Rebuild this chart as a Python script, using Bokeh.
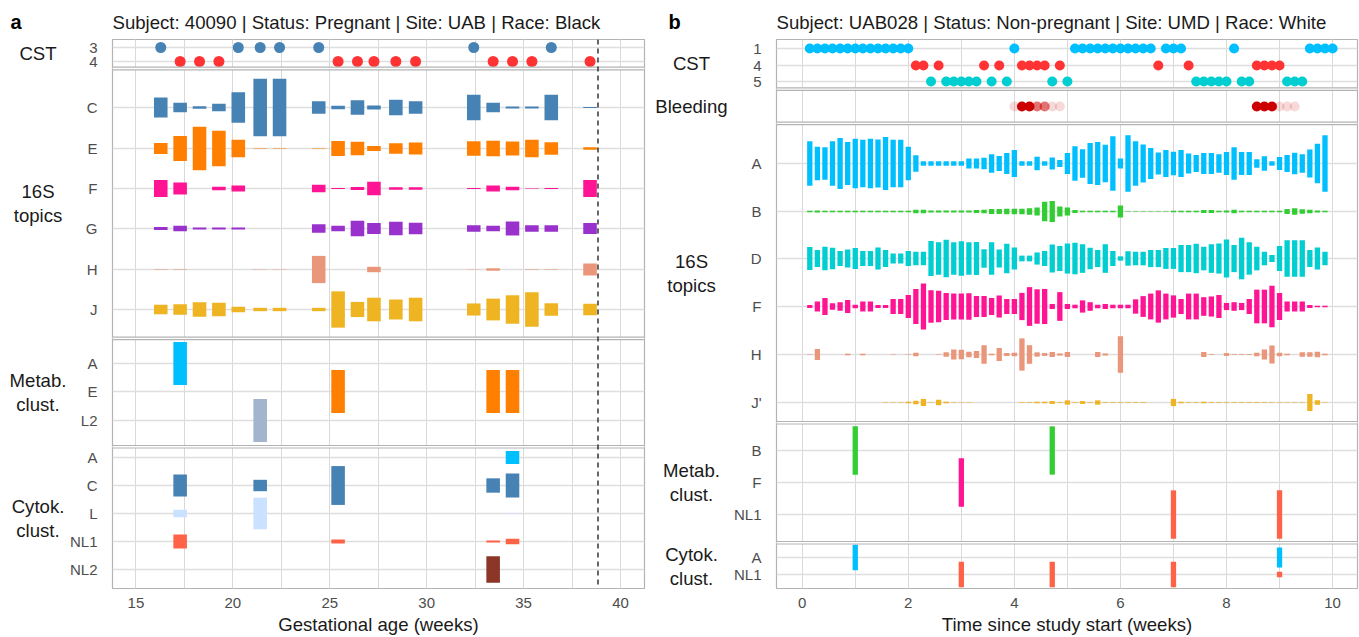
from bokeh.plotting import figure
from bokeh.layouts import row
from bokeh.models import Range1d, FixedTicker, SingleIntervalTicker, Span
from bokeh.core.properties import value
from bokeh.embed import file_html
from bokeh.resources import INLINE

FONT = "Liberation Sans"

# ===================== Panel a data =====================
a_title = "Subject: 40090 | Status: Pregnant | Site: UAB | Race: Black"
a_xlabel = "Gestational age (weeks)"
a_weeks = [16.28, 17.28, 18.28, 19.28, 20.28, 21.41, 22.41, 24.43, 25.43, 26.43,
           27.28, 28.41, 29.43, 32.43, 33.43, 34.43, 35.43, 36.43, 38.43]
a_cst = ["3", "4", "4", "4", "3", "3", "3", "3", "4", "4",
         "4", "4", "4", "3", "4", "4", "4", "3", "4"]
a_cst_levels = ["3", "4"]
a_delivery = 38.84

a_topic_names = ["C", "E", "F", "G", "H", "J"]
a_topic_C = [0.33, 0.16, 0.04, 0.12, 0.50, 0.95, 0.95, 0.21, 0.055, 0.24, 0.07, 0.26, 0.21, 0.42, 0.16, 0.03, 0.03, 0.42, 0.02]
a_topic_E = [0.18, 0.41, 0.72, 0.59, 0.29, 0.005, 0.01, 0.01, 0.25, 0.22, 0.08, 0.17, 0.20, 0.24, 0.26, 0.23, 0.29, 0.21, 0.04]
a_topic_F = [0.28, 0.20, 0.0, 0.06, 0.10, 0.0, 0.0, 0.12, 0.02, 0.05, 0.22, 0.04, 0.04, 0.02, 0.10, 0.06, 0.005, 0.02, 0.28]
a_topic_G = [0.05, 0.09, 0.03, 0.03, 0.03, 0.0, 0.0, 0.14, 0.09, 0.26, 0.18, 0.22, 0.19, 0.11, 0.09, 0.23, 0.11, 0.11, 0.18]
a_topic_H = [0.005, 0.005, 0.0, 0.0, 0.0, 0.005, 0.005, 0.45, 0.0, 0.0, 0.09, 0.0, 0.0, 0.005, 0.04, 0.0, 0.005, 0.005, 0.20]
a_topic_J = [0.16, 0.17, 0.24, 0.22, 0.09, 0.055, 0.055, 0.055, 0.60, 0.25, 0.39, 0.33, 0.39, 0.20, 0.36, 0.47, 0.57, 0.21, 0.19]

a_metab_names = ["A", "E", "L2"]
a_metab_weeks = [17.28, 21.41, 25.43, 33.43, 34.43]
a_metab_A = [1.0, 0.0, 0.0, 0.0, 0.0]
a_metab_E = [0.0, 0.0, 1.0, 1.0, 1.0]
a_metab_L2 = [0.0, 1.0, 0.0, 0.0, 0.0]

a_cytok_names = ["A", "C", "L", "NL1", "NL2"]
a_cytok_weeks = [17.28, 21.41, 25.43, 33.43, 34.43]
a_cytok_A = [0.0, 0.0, 0.0, 0.0, 0.31]
a_cytok_C = [0.52, 0.27, 0.92, 0.34, 0.57]
a_cytok_L = [0.18, 0.75, 0.0, 0.0, 0.01]
a_cytok_NL1 = [0.33, 0.0, 0.09, 0.05, 0.13]
a_cytok_NL2 = [0.0, 0.0, 0.0, 0.63, 0.0]

# ===================== Panel b data =====================
b_title = "Subject: UAB028 | Status: Non-pregnant | Site: UMD | Race: White"
b_xlabel = "Time since study start (weeks)"
b_days = [1, 2, 3, 4, 5, 6, 7, 8, 9, 10, 11, 12, 13, 14,
          15, 16, 17, 18, 19, 20, 21, 22, 23, 24, 25, 26, 27, 28,
          29, 30, 31, 32, 33, 34, 35, 36, 37, 38, 39, 40, 41, 42,
          43, 44, 45, 46, 47, 48, 49, 50, 51, 52, 53, 54, 55, 56,
          57, 58, 59, 60, 61, 62, 63, 64, 65, 66, 67, 68, 69, 70]
b_cst = ["1", "1", "1", "1", "1", "1", "1", "1", "1", "1", "1", "1", "1", "1",
         "4", "4", "5", "4", "5", "5", "5", "5", "5", "4", "5", "4", "5", "1",
         "4", "4", "4", "4", "5", "4", "5", "1", "1", "1", "1", "1", "1", "1",
         "1", "1", "1", "1", "4", "1", "1", "1", "4", "5", "5", "5", "5", "5",
         "1", "5", "5", "4", "4", "4", "4", "5", "5", "5", "1", "1", "1", "1"]
b_cst_levels = ["1", "4", "5"]

b_bleed_days = [28, 29, 30, 31, 32, 33, 34, 60, 61, 62, 63, 64, 65]
b_bleed_level = [1, 3, 3, 2, 2, 1, 1, 3, 3, 3, 1, 1, 1]

b_16s_days = b_days[:69]
b_topic_names = ["A", "B", "D", "F", "H", "J'"]
b_topic_A = [0.62, 0.47, 0.45, 0.62, 0.71, 0.60, 0.69, 0.66, 0.69, 0.67, 0.74, 0.66, 0.66, 0.47,
             0.23, 0.06, 0.06, 0.06, 0.06, 0.06, 0.06, 0.14, 0.14, 0.16, 0.26, 0.21, 0.29, 0.38,
             0.06, 0.06, 0.19, 0.06, 0.17, 0.10, 0.29, 0.48, 0.40, 0.57, 0.60, 0.52, 0.76, 0.14,
             0.79, 0.62, 0.53, 0.43, 0.31, 0.38, 0.33, 0.38, 0.28, 0.24, 0.29, 0.29, 0.26, 0.32,
             0.45, 0.32, 0.32, 0.12, 0.20, 0.06, 0.18, 0.24, 0.30, 0.26, 0.39, 0.55, 0.79]
b_topic_B = [0.02, 0.03, 0.02, 0.02, 0.02, 0.02, 0.02, 0.02, 0.02, 0.02, 0.02, 0.02, 0.02, 0.02,
             0.05, 0.05, 0.03, 0.03, 0.03, 0.03, 0.03, 0.03, 0.04, 0.05, 0.07, 0.07, 0.08, 0.08,
             0.08, 0.09, 0.11, 0.27, 0.29, 0.14, 0.11, 0.04, 0.02, 0.02, 0.02, 0.02, 0.02, 0.17,
             0.01, 0.01, 0.01, 0.01, 0.01, 0.01, 0.02, 0.02, 0.02, 0.02, 0.04, 0.04, 0.02, 0.03,
             0.05, 0.02, 0.02, 0.02, 0.02, 0.02, 0.02, 0.07, 0.09, 0.06, 0.05, 0.03, 0.02]
b_topic_D = [0.32, 0.24, 0.33, 0.30, 0.21, 0.25, 0.29, 0.21, 0.21, 0.31, 0.24, 0.14, 0.14, 0.21,
             0.19, 0.19, 0.49, 0.45, 0.52, 0.45, 0.48, 0.45, 0.46, 0.26, 0.45, 0.25, 0.41, 0.31,
             0.08, 0.08, 0.17, 0.21, 0.39, 0.35, 0.42, 0.44, 0.40, 0.30, 0.24, 0.40, 0.21, 0.06,
             0.20, 0.19, 0.19, 0.24, 0.24, 0.29, 0.29, 0.38, 0.38, 0.41, 0.33, 0.40, 0.42, 0.53,
             0.38, 0.58, 0.45, 0.33, 0.19, 0.10, 0.35, 0.51, 0.51, 0.51, 0.24, 0.31, 0.19]
b_topic_F = [0.04, 0.14, 0.24, 0.09, 0.12, 0.18, 0.05, 0.14, 0.14, 0.04, 0.04, 0.21, 0.21, 0.32,
             0.49, 0.64, 0.45, 0.44, 0.38, 0.36, 0.36, 0.37, 0.29, 0.29, 0.24, 0.31, 0.21, 0.21,
             0.38, 0.54, 0.48, 0.49, 0.07, 0.40, 0.07, 0.05, 0.17, 0.12, 0.05, 0.07, 0.05, 0.05,
             0.05, 0.20, 0.29, 0.36, 0.45, 0.36, 0.31, 0.21, 0.36, 0.36, 0.26, 0.28, 0.32, 0.10,
             0.12, 0.10, 0.21, 0.47, 0.47, 0.58, 0.38, 0.14, 0.14, 0.14, 0.04, 0.02, 0.02]
b_topic_H = [0.01, 0.15, 0.0, 0.0, 0.0, 0.02, 0.0, 0.02, 0.0, 0.0, 0.0, 0.01, 0.0, 0.01,
             0.05, 0.0, 0.0, 0.01, 0.06, 0.14, 0.13, 0.08, 0.10, 0.26, 0.02, 0.18, 0.04, 0.05,
             0.45, 0.26, 0.06, 0.04, 0.07, 0.03, 0.07, 0.0, 0.0, 0.0, 0.07, 0.03, 0.0, 0.51,
             0.0, 0.0, 0.0, 0.0, 0.0, 0.0, 0.0, 0.0, 0.0, 0.0, 0.07, 0.01, 0.0, 0.04,
             0.01, 0.01, 0.01, 0.05, 0.14, 0.25, 0.05, 0.02, 0.0, 0.06, 0.06, 0.08, 0.02]
b_topic_Jp = [0.0, 0.0, 0.0, 0.0, 0.0, 0.0, 0.0, 0.0, 0.0, 0.0, 0.01, 0.01, 0.01, 0.02,
              0.05, 0.10, 0.01, 0.08, 0.02, 0.01, 0.01, 0.01, 0.0, 0.0, 0.0, 0.0, 0.0, 0.0,
              0.01, 0.01, 0.02, 0.02, 0.04, 0.01, 0.06, 0.01, 0.04, 0.01, 0.06, 0.01, 0.01, 0.01,
              0.01, 0.01, 0.01, 0.0, 0.0, 0.0, 0.10, 0.02, 0.01, 0.01, 0.02, 0.01, 0.01, 0.01,
              0.01, 0.01, 0.01, 0.01, 0.01, 0.01, 0.01, 0.01, 0.01, 0.01, 0.24, 0.06, 0.01]

b_metab_names = ["B", "F", "NL1"]
b_metab_days = [7, 21, 33, 49, 63]
b_metab_B = [1.0, 0.0, 1.0, 0.0, 0.0]
b_metab_F = [0.0, 1.0, 0.0, 0.0, 0.0]
b_metab_NL1 = [0.0, 0.0, 0.0, 1.0, 1.0]

b_cytok_names = ["A", "NL1"]
b_cytok_days = [7, 21, 33, 49, 63]
b_cytok_A = [1.0, 0.0, 0.0, 0.0, 0.78]
b_cytok_NL1 = [0.0, 1.0, 1.0, 1.0, 0.22]

# ===================== styles =====================
CST_COLORS = {"1": "#00BFFF", "3": "#4682B4", "4": "#FF3333", "5": "#00CED1"}
A_TOPIC_COLORS = ["#4682B4", "#FF8000", "#FF1493", "#9932CC", "#E9967A", "#EEB422"]
B_TOPIC_COLORS = ["#00BFFF", "#32CD32", "#00CED1", "#FF1493", "#E9967A", "#EEB422"]
A_METAB_COLORS = ["#00BFFF", "#FF8000", "#A2B5CD"]
B_METAB_COLORS = ["#32CD32", "#FF1493", "#FF6347"]
A_CYTOK_COLORS = ["#00BFFF", "#4682B4", "#CAE1FF", "#FF6347", "#8B3626"]
B_CYTOK_COLORS = ["#00BFFF", "#FF6347"]
BLEED_COLOR = "#CC0000"
BLEED_ALPHA = {1: 0.15, 2: 0.55, 3: 1.0}

BORDER = "#B3B3B3"
GRID = "#D9D9D9"
BAR_SCALE = 1.5
FRAME_H = 549
TOP = 39
BOTTOM = 48
TXT = "#4D4D4D"
BIG = "18.6px"

# facet layouts (pixels from frame top)
A_LAYOUT = [
    dict(label="CST", top=0.0, bottom=27.7, first=7.7, step=14.3, n=2),
    dict(label="16S\ntopics", top=30.3, bottom=297.7, first=68.3, step=40.34, n=6),
    dict(label="Metab.\nclust.", top=300.2, bottom=406.0, first=323.7, step=28.65, n=3),
    dict(label="Cytok.\nclust.", top=408.5, bottom=549.0, first=417.7, step=28.15, n=5),
]
B_LAYOUT = [
    dict(label="CST", top=0.0, bottom=48.3, first=9.3, step=16.2, n=3),
    dict(label="Bleeding", top=50.8, bottom=82.7, first=67.0, step=16.0, n=1),
    dict(label="16S\ntopics", top=85.2, bottom=382.0, first=123.7, step=47.8, n=6),
    dict(label="Metab.\nclust.", top=384.5, bottom=502.0, first=411.0, step=32.2, n=3),
    dict(label="Cytok.\nclust.", top=504.5, bottom=549.0, first=517.7, step=17.0, n=2),
]


def rows_of(f):
    return [round(f["first"] + i * f["step"]) for i in range(f["n"])]


def label_fig(letter, width, layout, cx, offset):
    lf = figure(frame_width=width, frame_height=FRAME_H,
                x_range=Range1d(0, width), y_range=Range1d(FRAME_H, 0),
                x_axis_type=None, y_axis_type=None,
                output_backend="svg", toolbar_location=None,
                min_border_left=0, min_border_right=0,
                min_border_top=TOP, min_border_bottom=BOTTOM, title=letter)
    lf.outline_line_color = None
    lf.grid.visible = False
    lf.title.text_font = FONT
    lf.title.text_font_size = "20px"
    lf.title.text_font_style = "bold"
    lf.title.text_color = "black"
    lf.title.align = "left"
    lf.title.offset = offset
    lf.title.standoff = 14
    lf.text(x=[cx] * len(layout), y=[(f["top"] + f["bottom"]) / 2 for f in layout],
            text=[f["label"] for f in layout], text_align="center", text_baseline="middle",
            text_font=value(FONT), text_font_size=BIG, text_color="#1A1A1A",
            text_line_height=1.15)
    return lf


def make_fig(title, xr, frame_w, min_left, min_right, xlabel, interval):
    p = figure(frame_width=frame_w, frame_height=FRAME_H,
               x_range=Range1d(xr[0], xr[1]), y_range=Range1d(FRAME_H, 0),
               output_backend="svg", toolbar_location=None,
               min_border_left=min_left, min_border_right=min_right,
               min_border_top=TOP, min_border_bottom=BOTTOM, title=title)
    p.title.text_font = FONT
    p.title.text_font_size = BIG
    p.title.text_font_style = "normal"
    p.title.text_color = "#1A1A1A"
    p.title.align = "left"
    p.title.standoff = 14
    p.outline_line_color = BORDER
    p.outline_line_width = 1.2
    p.background_fill_color = "white"
    tk = SingleIntervalTicker(interval=interval, num_minor_ticks=2)
    p.xaxis.ticker = tk
    p.xgrid.ticker = tk
    p.xgrid.grid_line_color = GRID
    p.xgrid.grid_line_width = 1
    p.xgrid.minor_grid_line_color = GRID
    p.xgrid.minor_grid_line_width = 1
    p.xaxis.axis_label = xlabel
    p.xaxis.axis_label_text_font = FONT
    p.xaxis.axis_label_text_font_size = BIG
    p.xaxis.axis_label_text_font_style = "normal"
    p.xaxis.axis_label_text_color = "#1A1A1A"
    p.xaxis.axis_label_standoff = 3
    p.xaxis.major_label_text_font = FONT
    p.xaxis.major_label_text_font_size = "15px"
    p.xaxis.major_label_text_color = TXT
    p.xaxis.major_label_standoff = 3
    p.xaxis.axis_line_color = None
    p.xaxis.major_tick_line_color = None
    p.xaxis.minor_tick_line_color = None
    p.yaxis.axis_line_color = None
    p.yaxis.major_tick_line_color = None
    p.yaxis.minor_tick_line_color = None
    p.yaxis.major_label_text_font = FONT
    p.yaxis.major_label_text_font_size = "15px"
    p.yaxis.major_label_text_color = TXT
    p.yaxis.major_label_standoff = 9
    return p


def setup_facets(p, layout, names_per_facet, xr, grid_skip=()):
    x0, x1 = xr
    ticks, grid_ticks, overrides = [], [], {}
    for f, names in zip(layout, names_per_facet):
        for y, nm in zip(rows_of(f), names):
            ticks.append(y)
            overrides[y] = nm
            if f["label"] not in grid_skip:
                grid_ticks.append(y)
    p.yaxis.ticker = FixedTicker(ticks=ticks)
    p.yaxis.major_label_overrides = overrides
    p.ygrid.ticker = FixedTicker(ticks=grid_ticks)
    p.ygrid.grid_line_color = "#DEDEDE"
    p.ygrid.grid_line_width = 1.6
    for fa, fb in zip(layout[:-1], layout[1:]):
        p.quad(left=[x0], right=[x1], top=[fa["bottom"]], bottom=[fb["top"]],
               fill_color="white", line_color=None)
        p.add_layout(Span(location=fa["bottom"], dimension="width", line_color=BORDER, line_width=1.2))
        p.add_layout(Span(location=fb["top"], dimension="width", line_color=BORDER, line_width=1.2))


def add_bars(p, xs, vals, row_y, step, width, color):
    bx, bt, bb = [], [], []
    for x, v in zip(xs, vals):
        if v > 0:
            h = v * BAR_SCALE * step
            bx.append(x)
            bt.append(row_y - h / 2)
            bb.append(row_y + h / 2)
    p.vbar(x=bx, width=width, top=bt, bottom=bb, fill_color=color, line_color=None)


# ===================== Panel a =====================
A_X = (13.79, 41.24)
A_FW = 532
la = label_fig("a", 66, A_LAYOUT, 37.5, 10)
pa = make_fig(a_title, A_X, A_FW, 46, 10, a_xlabel, 5)
setup_facets(pa, A_LAYOUT, [a_cst_levels, a_topic_names, a_metab_names, a_cytok_names], A_X)

cst_rows = dict(zip(a_cst_levels, rows_of(A_LAYOUT[0])))
pa.scatter(x=a_weeks, y=[cst_rows[c] for c in a_cst], size=11,
           fill_color=[CST_COLORS[c] for c in a_cst], line_color=None)

a_topics = [a_topic_C, a_topic_E, a_topic_F, a_topic_G, a_topic_H, a_topic_J]
for vals, y, col in zip(a_topics, rows_of(A_LAYOUT[1]), A_TOPIC_COLORS):
    add_bars(pa, a_weeks, vals, y, A_LAYOUT[1]["step"], 0.7, col)
for vals, y, col in zip([a_metab_A, a_metab_E, a_metab_L2], rows_of(A_LAYOUT[2]), A_METAB_COLORS):
    add_bars(pa, a_metab_weeks, vals, y, A_LAYOUT[2]["step"], 0.7, col)
for vals, y, col in zip([a_cytok_A, a_cytok_C, a_cytok_L, a_cytok_NL1, a_cytok_NL2],
                        rows_of(A_LAYOUT[3]), A_CYTOK_COLORS):
    add_bars(pa, a_cytok_weeks, vals, y, A_LAYOUT[3]["step"], 0.7, col)

pa.add_layout(Span(location=a_delivery, dimension="height", line_color="#333333",
                   line_dash="5 4", line_width=1.5))

# ===================== Panel b =====================
B_X = (-0.485, 10.47)
B_FW = 581
lb = label_fig("b", 76, B_LAYOUT, 37.0, 14)
pb = make_fig(b_title, B_X, B_FW, 43, 4, b_xlabel, 2)
setup_facets(pb, B_LAYOUT, [b_cst_levels, [""], b_topic_names, b_metab_names, b_cytok_names],
             B_X, grid_skip=("Bleeding",))

b_weeks = [d / 7 for d in b_days]
cst_rows_b = dict(zip(b_cst_levels, rows_of(B_LAYOUT[0])))
pb.scatter(x=b_weeks, y=[cst_rows_b[c] for c in b_cst], size=10,
           fill_color=[CST_COLORS[c] for c in b_cst], line_color=None)

bleed_y = rows_of(B_LAYOUT[1])[0]
pb.scatter(x=[d / 7 for d in b_bleed_days], y=[bleed_y] * len(b_bleed_days), size=10,
           fill_color=BLEED_COLOR, fill_alpha=[BLEED_ALPHA[l] for l in b_bleed_level],
           line_color=None)

b_16s_weeks = [d / 7 for d in b_16s_days]
b_topics = [b_topic_A, b_topic_B, b_topic_D, b_topic_F, b_topic_H, b_topic_Jp]
for vals, y, col in zip(b_topics, rows_of(B_LAYOUT[2]), B_TOPIC_COLORS):
    add_bars(pb, b_16s_weeks, vals, y, B_LAYOUT[2]["step"], 0.1, col)
b_metab_weeks = [d / 7 for d in b_metab_days]
for vals, y, col in zip([b_metab_B, b_metab_F, b_metab_NL1], rows_of(B_LAYOUT[3]), B_METAB_COLORS):
    add_bars(pb, b_metab_weeks, vals, y, B_LAYOUT[3]["step"], 0.1, col)
b_cytok_weeks = [d / 7 for d in b_cytok_days]
for vals, y, col in zip([b_cytok_A, b_cytok_NL1], rows_of(B_LAYOUT[4]), B_CYTOK_COLORS):
    add_bars(pb, b_cytok_weeks, vals, y, B_LAYOUT[4]["step"], 0.1, col)

layout = row(la, pa, lb, pb)
open("out.html", "w").write(file_html(layout, INLINE))
